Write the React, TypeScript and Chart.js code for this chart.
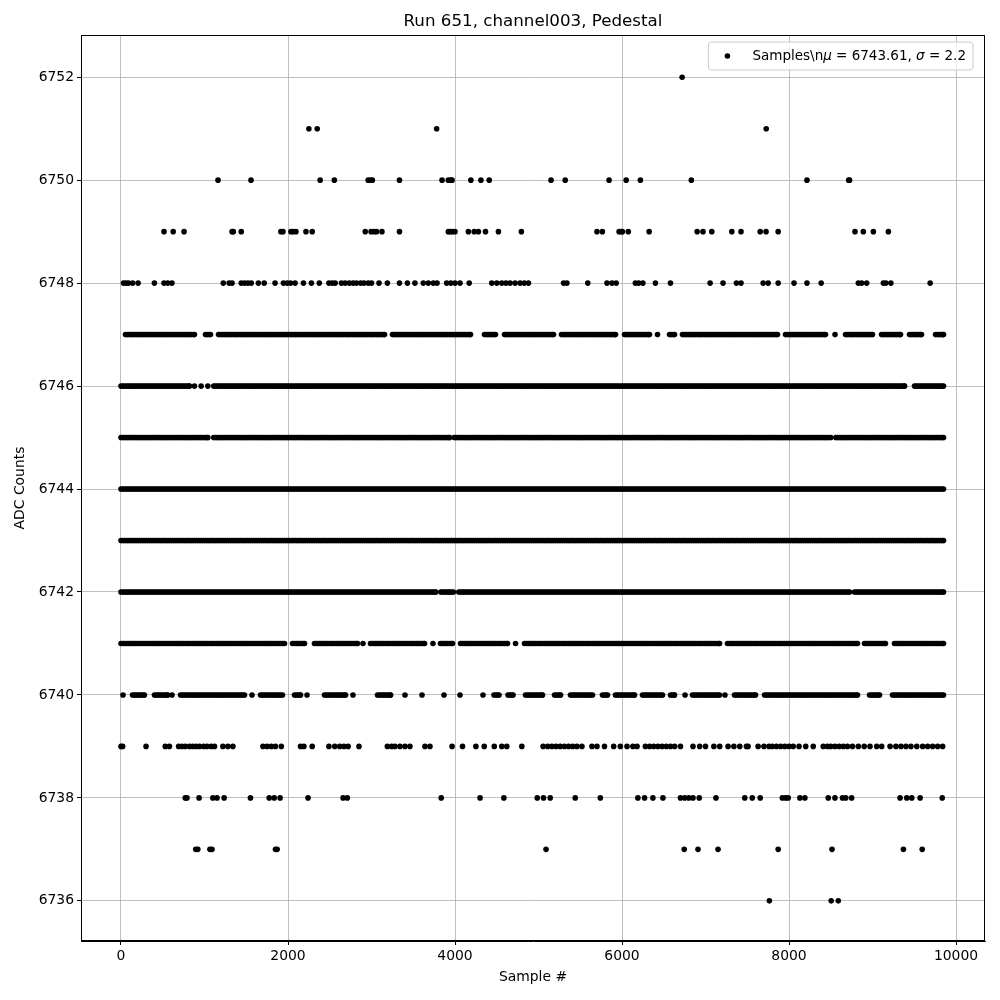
import React, { useEffect, useRef } from "react";
import { Chart, registerables } from "chart.js";

Chart.register(...registerables);

// ---- Data ----
const chartTitle = "Run 651, channel003, Pedestal";
const xAxisTitle = "Sample #";
const yAxisTitle = "ADC Counts";
const xTicks = [0, 2000, 4000, 6000, 8000, 10000];
const yTicks = [6736, 6738, 6740, 6742, 6744, 6746, 6748, 6750, 6752];
const legendName = "Samples\\n";
const muValue = "6743.61";
const sigmaValue = "2.2";

// Sparse ADC levels: sample indices where a sample sits at that level
const adc6752 = [6720];
const adc6751 = [2250, 2350, 3780, 7727];
const adc6750 = [1162, 1557, 2385, 2555, 2960, 2990, 3010, 3335, 3845, 3920, 3950, 3965, 4190, 4310, 4410, 5150, 5320, 5845, 6050, 6220, 6830, 8215, 8715, 8725];
const adc6749 = [515, 625, 755, 1330, 1345, 1440, 1915, 1940, 2035, 2060, 2095, 2215, 2290, 2925, 2995, 3030, 3060, 3125, 3335, 3920, 3945, 3970, 4000, 4160, 4230, 4280, 4365, 4520, 4795, 5700, 5765, 5965, 5990, 6005, 6075, 6325, 6900, 6970, 7075, 7315, 7425, 7655, 7725, 7870, 8790, 8890, 9010, 9190];
const adc6748 = [30, 60, 90, 140, 205, 400, 515, 560, 610, 1225, 1295, 1330, 1440, 1480, 1520, 1560, 1645, 1715, 1845, 1945, 1990, 2030, 2085, 2185, 2280, 2375, 2490, 2530, 2565, 2640, 2685, 2735, 2780, 2820, 2870, 2910, 2960, 3000, 3090, 3190, 3335, 3430, 3520, 3620, 3680, 3740, 3785, 3900, 3950, 4000, 4060, 4170, 4440, 4500, 4560, 4610, 4660, 4720, 4780, 4830, 4880, 5300, 5340, 5590, 5820, 5880, 5930, 6160, 6200, 6250, 6400, 6580, 7055, 7210, 7370, 7425, 7690, 7750, 7870, 8060, 8215, 8385, 8830, 8870, 8930, 9130, 9160, 9220, 9690];
const adc6739 = [0, 20, 300, 530, 580, 690, 730, 770, 820, 860, 900, 940, 990, 1030, 1080, 1120, 1220, 1280, 1340, 1700, 1750, 1800, 1850, 1920, 2150, 2190, 2290, 2490, 2560, 2620, 2670, 2720, 2850, 3190, 3240, 3280, 3340, 3400, 3460, 3640, 3700, 3965, 4090, 4250, 4350, 4470, 4560, 4620, 4800, 5055, 5110, 5160, 5210, 5260, 5310, 5360, 5410, 5460, 5520, 5640, 5700, 5790, 5900, 5980, 6060, 6130, 6180, 6280, 6330, 6380, 6430, 6480, 6530, 6580, 6630, 6700, 6850, 6930, 7000, 7100, 7170, 7270, 7340, 7410, 7490, 7510, 7630, 7700, 7760, 7800, 7850, 7900, 7950, 8000, 8050, 8120, 8200, 8290, 8410, 8460, 8500, 8550, 8600, 8650, 8700, 8760, 8830, 8900, 8970, 9050, 9110, 9210, 9280, 9340, 9400, 9460, 9530, 9600, 9660, 9720, 9780, 9840];
const adc6738 = [770, 790, 935, 1100, 1150, 1235, 1550, 1775, 1835, 1905, 2240, 2660, 2710, 3835, 4300, 4585, 4985, 5060, 5140, 5440, 5740, 6190, 6270, 6370, 6490, 6700, 6750, 6800, 6850, 6925, 7125, 7470, 7560, 7655, 7920, 7960, 7990, 8130, 8190, 8470, 8550, 8640, 8680, 8750, 9330, 9410, 9470, 9570, 9835];
const adc6737 = [895, 920, 1065, 1090, 1850, 1870, 5090, 6745, 6910, 7150, 7870, 8515, 9370, 9595];
const adc6736 = [7765, 8505, 8590];

// Dense ADC levels: spans [first, last] of sample indices where the level is continuously occupied
const runs6747 = [[54, 880], [1012, 1072], [1168, 3156], [3251, 4186], [4353, 4485], [4593, 5180], [5275, 5922], [6030, 6329], [6425, 6425], [6569, 6629], [6724, 7862], [7958, 8437], [8551, 8551], [8677, 9000], [9108, 9335], [9443, 9587], [9755, 9850]];
const runs6746 = [[0, 820], [880, 880], [960, 960], [1040, 1040], [1110, 9383], [9503, 9850]];
const runs6745 = [[0, 1040], [1110, 3935], [3990, 8500], [8560, 9850]];
const runs6744 = [[0, 9850]];
const runs6743 = [[0, 9850]];
const runs6742 = [[0, 3770], [3830, 3980], [4045, 8725], [8785, 9850]];
const runs6741 = [[0, 1958], [2054, 2198], [2317, 2832], [2898, 2898], [2988, 3635], [3736, 3736], [3826, 3970], [4066, 4629], [4725, 4725], [4832, 7168], [7263, 8820], [8904, 9155], [9263, 9850]];
const runs6740 = [[24, 24], [138, 281], [401, 557], [611, 611], [713, 1479], [1569, 1569], [1671, 1934], [2078, 2150], [2228, 2228], [2437, 2689], [2778, 2778], [3072, 3228], [3401, 3401], [3605, 3605], [3868, 3868], [4060, 4060], [4335, 4335], [4467, 4527], [4635, 4695], [4844, 5048], [5192, 5264], [5383, 5647], [5766, 5826], [5922, 6150], [6245, 6485], [6581, 6629], [6755, 6755], [6844, 7168], [7233, 7233], [7347, 7599], [7707, 8820], [8964, 9084], [9239, 9850]];

const sparseLevels: [number, number[]][] = [
  [6752, adc6752], [6751, adc6751], [6750, adc6750], [6749, adc6749], [6748, adc6748],
  [6739, adc6739], [6738, adc6738], [6737, adc6737], [6736, adc6736],
];
const denseLevels: [number, number[][]][] = [
  [6747, runs6747], [6746, runs6746], [6745, runs6745], [6744, runs6744],
  [6743, runs6743], [6742, runs6742], [6741, runs6741], [6740, runs6740],
];

const SAMPLE_STEP = 22;

function buildPoints() {
  const pts: { x: number; y: number }[] = [];
  for (const [lvl, xs] of sparseLevels) for (const x of xs) pts.push({ x, y: lvl });
  for (const [lvl, runs] of denseLevels) {
    for (const [a, b] of runs) {
      let x = a;
      for (; x <= b; x += SAMPLE_STEP) pts.push({ x, y: lvl });
      if (x - SAMPLE_STEP < b) pts.push({ x: b, y: lvl });
    }
  }
  return pts;
}

const FONT = "DejaVu Sans";

const framePlugin = {
  id: "frame",
  afterDraw(chart: any) {
    const { ctx, chartArea } = chart;
    ctx.save();
    ctx.strokeStyle = "#000";
    ctx.lineWidth = 1;
    ctx.strokeRect(chartArea.left + 0.5, chartArea.top + 0.5, chartArea.right - chartArea.left - 1, chartArea.bottom - chartArea.top - 1);

    // title centred over the plot area
    ctx.fillStyle = "#000";
    ctx.font = `16.7px "${FONT}"`;
    ctx.textAlign = "center";
    ctx.textBaseline = "middle";
    ctx.fillText(chartTitle, (chartArea.left + chartArea.right) / 2, 22);

    // legend
    const fs = 13.5;
    const parts: [string, boolean][] = [
      [legendName, false], ["\u03bc", true], [" = " + muValue + ", ", false], ["\u03c3", true], [" = " + sigmaValue, false],
    ];
    let textW = 0;
    for (const [t, it] of parts) {
      ctx.font = `${it ? "italic " : ""}${fs}px "${FONT}"`;
      textW += ctx.measureText(t).width;
    }
    const boxRight = chartArea.right - 12;
    const boxTop = chartArea.top + 7;
    const boxW = textW + 51;
    const boxH = 28;
    const boxLeft = boxRight - boxW;
    const r = 3;
    ctx.beginPath();
    ctx.moveTo(boxLeft + r, boxTop);
    ctx.lineTo(boxRight - r, boxTop);
    ctx.quadraticCurveTo(boxRight, boxTop, boxRight, boxTop + r);
    ctx.lineTo(boxRight, boxTop + boxH - r);
    ctx.quadraticCurveTo(boxRight, boxTop + boxH, boxRight - r, boxTop + boxH);
    ctx.lineTo(boxLeft + r, boxTop + boxH);
    ctx.quadraticCurveTo(boxLeft, boxTop + boxH, boxLeft, boxTop + boxH - r);
    ctx.lineTo(boxLeft, boxTop + r);
    ctx.quadraticCurveTo(boxLeft, boxTop, boxLeft + r, boxTop);
    ctx.closePath();
    ctx.fillStyle = "rgba(255,255,255,0.8)";
    ctx.fill();
    ctx.strokeStyle = "#cccccc";
    ctx.lineWidth = 1;
    ctx.stroke();

    const cy = boxTop + boxH / 2;
    ctx.fillStyle = "#000";
    ctx.beginPath();
    ctx.arc(boxLeft + 19, cy, 2.8, 0, Math.PI * 2);
    ctx.fill();

    let tx = boxLeft + 44;
    ctx.textBaseline = "middle";
    ctx.textAlign = "left";
    for (const [t, it] of parts) {
      ctx.font = `${it ? "italic " : ""}${fs}px "${FONT}"`;
      ctx.fillText(t, tx, cy);
      tx += ctx.measureText(t).width;
    }
    ctx.restore();
  },
};

export default function App() {
  const ref = useRef<HTMLCanvasElement | null>(null);
  useEffect(() => {
    if (!ref.current) return;
    const tickFont = { family: FONT, size: 13.9 };
    const chart = new Chart(ref.current, {
      type: "scatter",
      data: {
        datasets: [
          {
            label: "Samples",
            data: buildPoints(),
            backgroundColor: "#000",
            borderWidth: 0,
            pointRadius: 2.8,
            pointHoverRadius: 2.8,
          },
        ],
      },
      options: {
        animation: false,
        responsive: false,
        maintainAspectRatio: false,
        events: [],
        layout: { padding: { left: 0, right: 15, top: 35, bottom: 0 } },
        plugins: {
          legend: { display: false },
          tooltip: { enabled: false },
          title: { display: false },
        },
        scales: {
          x: {
            type: "linear",
            min: -479,
            max: 10347,
            afterBuildTicks: (s: any) => {
              s.ticks = xTicks.map((v) => ({ value: v }));
            },
            afterFit: (s: any) => {
              s.height = 59;
            },
            grid: { color: "#b0b0b0", lineWidth: 0.8, tickColor: "#000", tickLength: 4, tickWidth: 1 },
            border: { display: true, color: "#000", width: 1 },
            ticks: { color: "#000", font: tickFont, padding: 3, maxRotation: 0, autoSkip: false, callback: (v: any) => String(v) },
            title: { display: true, text: xAxisTitle, color: "#000", font: tickFont, padding: { top: 0, bottom: 14.6 } },
          },
          y: {
            type: "linear",
            min: 6735.22,
            max: 6752.82,
            afterBuildTicks: (s: any) => {
              s.ticks = yTicks.map((v) => ({ value: v }));
            },
            afterFit: (s: any) => {
              s.width = 81;
            },
            grid: { color: "#b0b0b0", lineWidth: 0.8, tickColor: "#000", tickLength: 4, tickWidth: 1 },
            border: { display: true, color: "#000", width: 1 },
            ticks: { color: "#000", font: tickFont, padding: 3, autoSkip: false, callback: (v: any) => String(v) },
            title: { display: true, text: yAxisTitle, color: "#000", font: tickFont, padding: { top: 11.6, bottom: 0 } },
          },
        },
      } as any,
      plugins: [framePlugin],
    });
    return () => chart.destroy();
  }, []);
  return (
    <div style={{ position: "absolute", left: 0, top: 0, width: 1000, height: 1000, background: "#fff" }}>
      <canvas ref={ref} width={1000} height={1000} style={{ display: "block", width: 1000, height: 1000 }} />
    </div>
  );
}
